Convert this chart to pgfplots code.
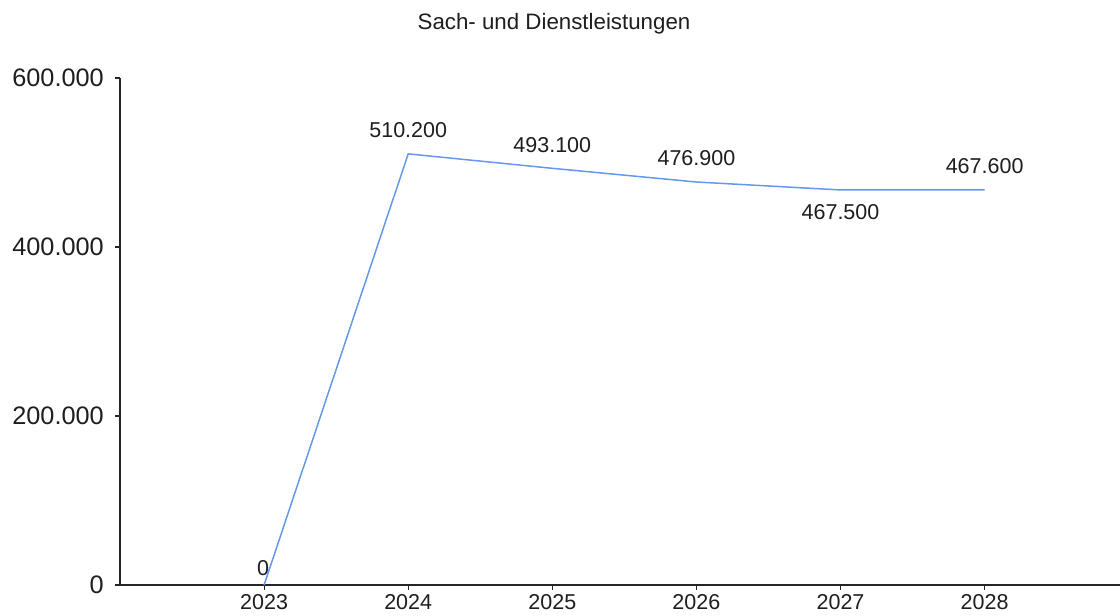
\documentclass[border=0pt]{standalone}
\usepackage{pgfplots}
\pgfplotsset{compat=1.18}
\usepackage{fontspec}
\setmainfont{Liberation Sans}
\definecolor{linecol}{RGB}{100,152,238}
\definecolor{txt}{RGB}{30,30,30}
\begin{document}
\begin{tikzpicture}[x=1bp,y=1bp]
\path[use as bounding box] (0,0) rectangle (1120,616);
\node[text=txt, font=\fontsize{22.3bp}{26bp}\selectfont] at (554,592) {Sach- und Dienstleistungen};
\begin{axis}[
  at={(120bp,31bp)}, anchor=south west,
  scale only axis, width=1000bp, height=507bp,
  xmin=2022, xmax=2028.94, ymin=0, ymax=600000,
  axis x line=bottom, axis y line=left,
  axis line style={-, line width=1.3bp, black!85},
  tick align=outside, major tick length=5bp,
  tick style={line width=1.1bp, black!85},
  xtick={2023,2024,2025,2026,2027,2028},
  xticklabels={2023,2024,2025,2026,2027,2028},
  ytick={0,200000,400000,600000},
  yticklabels={0,200.000,400.000,600.000},
  scaled y ticks=false,
  /pgf/number format/assume math mode=true,
  x tick label style={text=txt, font=\fontsize{21.5bp}{24bp}\selectfont, inner sep=1bp, yshift=-3bp},
  y tick label style={text=txt, font=\fontsize{25.3bp}{28bp}\selectfont, inner sep=1bp, xshift=-10bp},
  clip=false,
]
  \addplot[linecol, line width=1.5bp, mark=none] coordinates {
    (2023,0) (2024,510200) (2025,493100) (2026,476900) (2027,467500) (2028,467600)};
  \begin{scope}[every node/.style={text=txt, font=\fontsize{21.5bp}{24bp}\selectfont}]
  \node at (axis cs:2023,0) [xshift=-1bp, yshift=17bp] {0};
  \node at (axis cs:2024,510200) [yshift=24bp] {510.200};
  \node at (axis cs:2025,493100) [yshift=23bp] {493.100};
  \node at (axis cs:2026,476900) [yshift=24bp] {476.900};
  \node at (axis cs:2027,467500) [yshift=-22bp] {467.500};
  \node at (axis cs:2028,467600) [yshift=24bp] {467.600};
  \end{scope}
\end{axis}
\end{tikzpicture}
\end{document}
